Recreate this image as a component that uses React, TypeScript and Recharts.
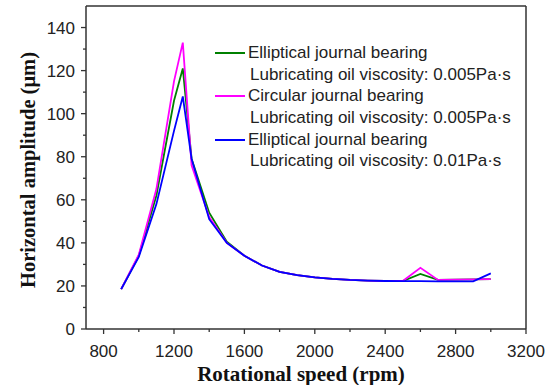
import React from 'react';
import { LineChart, Line, XAxis, YAxis } from 'recharts';

// rotational speed (rpm)
const speeds = [900, 1000, 1100, 1200, 1250, 1300, 1400, 1500, 1600, 1700, 1800, 1900, 2000, 2100, 2200, 2300, 2400, 2500, 2600, 2700, 2800, 2900, 3000];

// horizontal amplitude (um)
const ellipticalLow = [18.5, 34, 62, 106, 121, 79, 54, 40.5, 34, 29.5, 26.5, 25, 24, 23.3, 22.8, 22.5, 22.3, 22.3, 25.6, 22.8, 22.9, 23, 23.2];
const circularLow = [18.5, 34.5, 65, 115, 133, 76, 52, 40, 34, 29.5, 26.5, 25, 24, 23.3, 22.8, 22.5, 22.3, 22.3, 28.4, 22.8, 22.9, 23, 23.2];
const ellipticalHigh = [18.5, 33.5, 58, 92, 108, 79, 51, 40, 34, 29.5, 26.5, 25, 24, 23.3, 22.8, 22.5, 22.3, 22.2, 22.2, 22.1, 22.1, 22.1, 25.8];

const xTicks = [700, 800, 1000, 1200, 1400, 1600, 1800, 2000, 2200, 2400, 2600, 2800, 3000, 3200];
const xMajor = [800, 1200, 1600, 2000, 2400, 2800, 3200];
const yTicks = [0, 10, 20, 30, 40, 50, 60, 70, 80, 90, 100, 110, 120, 130, 140];
const yMajor = [0, 20, 40, 60, 80, 100, 120, 140];

const seriesInfo = [
  { key: 'ell005', color: '#008000', name: 'Elliptical journal bearing', sub: 'Lubricating oil viscosity: 0.005Pa·s' },
  { key: 'cir005', color: '#ff00ff', name: 'Circular journal bearing', sub: 'Lubricating oil viscosity: 0.005Pa·s' },
  { key: 'ell01', color: '#0000ff', name: 'Elliptical journal bearing', sub: 'Lubricating oil viscosity: 0.01Pa·s' },
];

const chartData = speeds.map((s, i) => ({
  speed: s,
  ell005: ellipticalLow[i],
  cir005: circularLow[i],
  ell01: ellipticalHigh[i],
}));

const axisColor = '#333';
const tickFont = 'Arial, "Liberation Sans", sans-serif';
const titleFont = '"Times New Roman", "Liberation Serif", serif';

// plot box (px) - matches chart margins / axis sizes below
const box = { left: 86, top: 6, right: 526, bottom: 329 };

const XTick = (props: any) => {
  const { x, y, payload } = props;
  const v = payload.value;
  if (v === 700) return null;
  const major = xMajor.includes(v);
  return (
    <g>
      <line x1={x} x2={x} y1={y} y2={y + (major ? 5 : 3)} stroke={axisColor} strokeWidth={1.3} />
      {major && (
        <text x={x} y={y + 28} textAnchor="middle" fontSize={17} fontFamily={tickFont} fill="#222">
          {v}
        </text>
      )}
    </g>
  );
};

const YTick = (props: any) => {
  const { x, y, payload } = props;
  const v = payload.value;
  const major = yMajor.includes(v);
  return (
    <g>
      <line x1={x} x2={x - (major ? 5 : 3)} y1={y} y2={y} stroke={axisColor} strokeWidth={1.3} />
      {major && (
        <text x={x - 11} y={y + 6} textAnchor="end" fontSize={17} fontFamily={tickFont} fill="#222">
          {v}
        </text>
      )}
    </g>
  );
};

const LegendBox = () => (
  <div
    style={{
      position: 'absolute',
      left: 215,
      top: 42,
      width: 300,
      fontFamily: tickFont,
      fontSize: 17,
      color: '#222',
      lineHeight: '21.7px',
    }}
  >
    {seriesInfo.map((s) => (
      <div key={s.key}>
        <div style={{ height: 21.7, display: 'flex', alignItems: 'center' }}>
          <span style={{ display: 'inline-block', width: 30, height: 2, background: s.color, marginRight: 3 }} />
          <span>{s.name}</span>
        </div>
        <div style={{ height: 21.7, paddingLeft: 35 }}>{s.sub}</div>
      </div>
    ))}
  </div>
);

const App: React.FC = () => {
  return (
    <>
      <style>{'html, body { margin: 0; padding: 0; background: #fff; overflow: hidden; }'}</style>
      <div style={{ position: 'relative', width: 555, height: 385, background: '#fff', overflow: 'hidden' }}>
        <LineChart
          width={555}
          height={385}
          data={chartData}
          margin={{ top: box.top, right: 555 - box.right, left: 0, bottom: 0 }}
        >
          <XAxis
            dataKey="speed"
            type="number"
            domain={[700, 3200]}
            ticks={xTicks}
            interval={0}
            height={385 - box.bottom}
            tickSize={0}
            tickMargin={0}
            tickLine={false}
            tick={<XTick />}
            axisLine={{ stroke: axisColor, strokeWidth: 1.5 }}
            label={{
              content: () => (
                <text x={301} y={381} textAnchor="middle" fontSize={21} fontWeight="bold" fontFamily={titleFont} fill="#111">
                  Rotational speed (rpm)
                </text>
              ),
            }}
          />
          <YAxis
            type="number"
            domain={[0, 150]}
            ticks={yTicks}
            interval={0}
            width={box.left}
            tickSize={0}
            tickMargin={0}
            tickLine={false}
            tick={<YTick />}
            axisLine={{ stroke: axisColor, strokeWidth: 1.5 }}
            label={{
              content: () => (
                <text
                  x={35}
                  y={170}
                  transform="rotate(-90 35 170)"
                  textAnchor="middle"
                  fontSize={20.5}
                  fontWeight="bold"
                  fontFamily={titleFont}
                  fill="#111"
                >
                  Horizontal amplitude (μm)
                </text>
              ),
            }}
          />
          {seriesInfo.map((s) => (
            <Line
              key={s.key}
              type="linear"
              dataKey={s.key}
              stroke={s.color}
              strokeWidth={1.8}
              dot={false}
              isAnimationActive={false}
            />
          ))}
        </LineChart>
        {/* top and right edges of the frame */}
        <svg
          width={555}
          height={385}
          style={{ position: 'absolute', left: 0, top: 0, pointerEvents: 'none' }}
        >
          <line x1={box.left} x2={box.right} y1={box.top} y2={box.top} stroke={axisColor} strokeWidth={1.5} />
          <line x1={box.right} x2={box.right} y1={box.top} y2={box.bottom} stroke={axisColor} strokeWidth={1.5} />
        </svg>
        <LegendBox />
      </div>
    </>
  );
};

export default App;
